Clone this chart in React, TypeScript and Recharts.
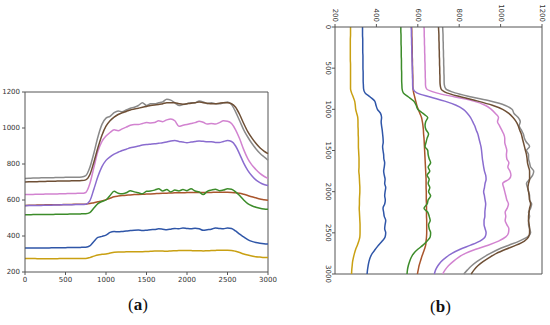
import React from 'react';
import { LineChart, Line, XAxis, YAxis, ReferenceLine } from 'recharts';

const X = [0,50,100,150,200,250,300,350,400,450,500,550,600,650,700,750,800,850,900,950,1000,1050,1100,1150,1200,1250,1300,1350,1400,1450,1500,1550,1600,1650,1700,1750,1800,1850,1900,1950,2000,2050,2100,2150,2200,2250,2300,2350,2400,2450,2500,2550,2600,2650,2700,2750,2800,2850,2900,2950,3000];

const GREY = [720,721,722,722,723,723,724,724,725,725,726,726,727,727,728,735,780,860,950,1020,1055,1065,1085,1095,1090,1100,1110,1115,1125,1140,1125,1135,1135,1140,1145,1160,1155,1140,1125,1130,1135,1140,1140,1150,1145,1135,1140,1135,1135,1140,1145,1130,1090,1040,990,950,915,885,860,840,822];
const BROWN = [700,701,702,702,703,703,704,704,705,705,706,706,707,707,708,712,740,810,890,960,1010,1040,1060,1075,1085,1092,1100,1105,1110,1115,1120,1125,1128,1130,1135,1140,1140,1140,1135,1132,1135,1138,1140,1145,1140,1138,1135,1135,1138,1140,1140,1135,1115,1075,1025,980,945,915,890,872,858];
const PINK = [630,631,631,632,632,633,633,634,634,635,635,636,636,637,637,642,690,780,870,925,955,975,990,985,995,1005,1015,1020,1020,1025,1030,1028,1030,1040,1035,1045,1050,1040,1010,1015,1020,1025,1030,1038,1032,1022,1025,1022,1030,1040,1038,1025,990,940,880,830,795,770,748,732,720];
const PURPLE = [568,569,569,570,570,571,571,572,572,573,573,574,574,575,575,577,595,660,730,785,820,840,855,865,875,882,890,895,900,905,908,910,912,915,918,922,928,930,925,922,918,922,925,928,926,924,924,920,920,925,930,925,900,855,805,765,735,712,697,686,680];
const GREEN = [518,518,519,519,519,520,520,520,521,521,521,522,522,522,523,524,530,555,580,592,600,625,648,638,635,640,652,645,640,635,648,650,655,662,650,658,645,655,650,658,652,662,650,645,630,648,655,660,652,655,662,660,645,625,600,580,568,560,554,550,548];
const SIENNA = [570,571,571,572,572,573,573,573,574,574,575,575,576,576,576,577,580,585,590,595,602,610,618,622,625,627,628,630,631,632,633,634,635,636,637,638,639,640,640,640,641,641,641,642,642,642,642,643,643,643,643,642,640,638,632,625,618,612,606,602,598];
const BLUE = [333,333,333,334,334,334,334,335,335,335,335,336,336,336,337,338,345,370,392,398,405,420,425,423,425,428,430,432,433,430,432,435,436,440,438,435,438,442,440,445,442,440,443,440,432,435,438,445,442,440,445,442,428,410,395,380,370,364,360,357,355];
const YELLOW = [275,275,275,274,274,274,274,274,274,275,275,275,275,275,275,275,280,288,295,298,300,305,310,311,311,312,312,313,313,313,314,315,316,316,316,315,317,318,319,320,320,319,318,318,317,318,319,320,321,321,321,320,315,308,300,294,289,285,283,281,280];

const X_TICKS = [0, 500, 1000, 1500, 2000, 2500, 3000];
const V_TICKS = [200, 400, 600, 800, 1000, 1200];

const SERIES = [
  { key: 'yellow', color: '#c9a012' },
  { key: 'blue', color: '#2f56a8' },
  { key: 'sienna', color: '#a9552c' },
  { key: 'green', color: '#3c8c2a' },
  { key: 'purple', color: '#8a6ccf' },
  { key: 'pink', color: '#d283d0' },
  { key: 'grey', color: '#8a8a8a' },
  { key: 'brown', color: '#6e4f35' },
];

const data = X.map((x, i) => ({
  x,
  grey: GREY[i],
  brown: BROWN[i],
  pink: PINK[i],
  purple: PURPLE[i],
  green: GREEN[i],
  sienna: SIENNA[i],
  blue: BLUE[i],
  yellow: YELLOW[i],
}));

const AX = '#555';
const FONT = 'DejaVu Sans, sans-serif';
const tickStyle = { fontSize: 7, fill: '#333', fontFamily: FONT };

const TopTick = (props: any) => {
  const { x, y, payload } = props;
  return (
    <text x={x} y={y} transform={`rotate(90 ${x} ${y})`} textAnchor="end" dominantBaseline="central" fontSize={7} fill="#333" fontFamily={FONT}>
      {payload.value}
    </text>
  );
};

const LeftTick = (props: any) => {
  const { x, y, payload } = props;
  return (
    <text x={x - 1} y={y} transform={`rotate(90 ${x - 1} ${y})`} textAnchor="middle" dominantBaseline="central" fontSize={7} fill="#333" fontFamily={FONT}>
      {payload.value}
    </text>
  );
};

const labelStyle: React.CSSProperties = {
  position: 'absolute',
  fontFamily: 'Liberation Serif, DejaVu Serif, serif',
  fontSize: 17,
  color: '#111',
  lineHeight: 1,
  whiteSpace: 'nowrap',
};

export default function App() {
  return (
    <div style={{ position: 'absolute', left: 0, top: 0, width: 550, height: 325, background: '#fff', overflow: 'hidden' }}>
      <div style={{ position: 'absolute', left: 0, top: 0 }}>
        <LineChart width={280} height={300} data={data} margin={{ top: 92, right: 12, bottom: 8, left: 0 }}>
          <XAxis dataKey="x" type="number" domain={[0, 3000]} ticks={X_TICKS} tickSize={3} tick={tickStyle} stroke={AX} height={20} interval={0} />
          <YAxis type="number" domain={[200, 1200]} ticks={V_TICKS} tickSize={3} tick={tickStyle} stroke={AX} width={25} interval={0} />
          <ReferenceLine y={1200} stroke={AX} />
          <ReferenceLine x={3000} stroke={AX} />
          {SERIES.map((s) => (
            <Line key={s.key} dataKey={s.key} stroke={s.color} strokeWidth={1.5} dot={false} type="monotone" isAnimationActive={false} />
          ))}
        </LineChart>
      </div>
      <div style={{ ...labelStyle, left: 128, top: 296 }}>(<b>a</b>)</div>

      <div style={{ position: 'absolute', left: 290, top: 0 }}>
        <LineChart layout="vertical" width={260} height={300} data={data} margin={{ top: 7, right: 8, bottom: 26, left: 25 }}>
          <XAxis type="number" orientation="top" domain={[200, 1200]} ticks={V_TICKS} tickSize={3} tick={<TopTick />} stroke={AX} height={20} interval={0} />
          <YAxis type="number" dataKey="x" domain={[0, 3000]} ticks={X_TICKS} tickSize={3} tickMargin={3} tick={<LeftTick />} stroke={AX} width={20} interval={0} />
          <ReferenceLine x={1200} stroke={AX} />
          <ReferenceLine y={3000} stroke={AX} />
          {SERIES.map((s) => (
            <Line key={s.key} dataKey={s.key} stroke={s.color} strokeWidth={1.5} dot={false} type="monotone" isAnimationActive={false} />
          ))}
        </LineChart>
      </div>
      <div style={{ ...labelStyle, left: 430, top: 298 }}>(<b>b</b>)</div>
    </div>
  );
}
